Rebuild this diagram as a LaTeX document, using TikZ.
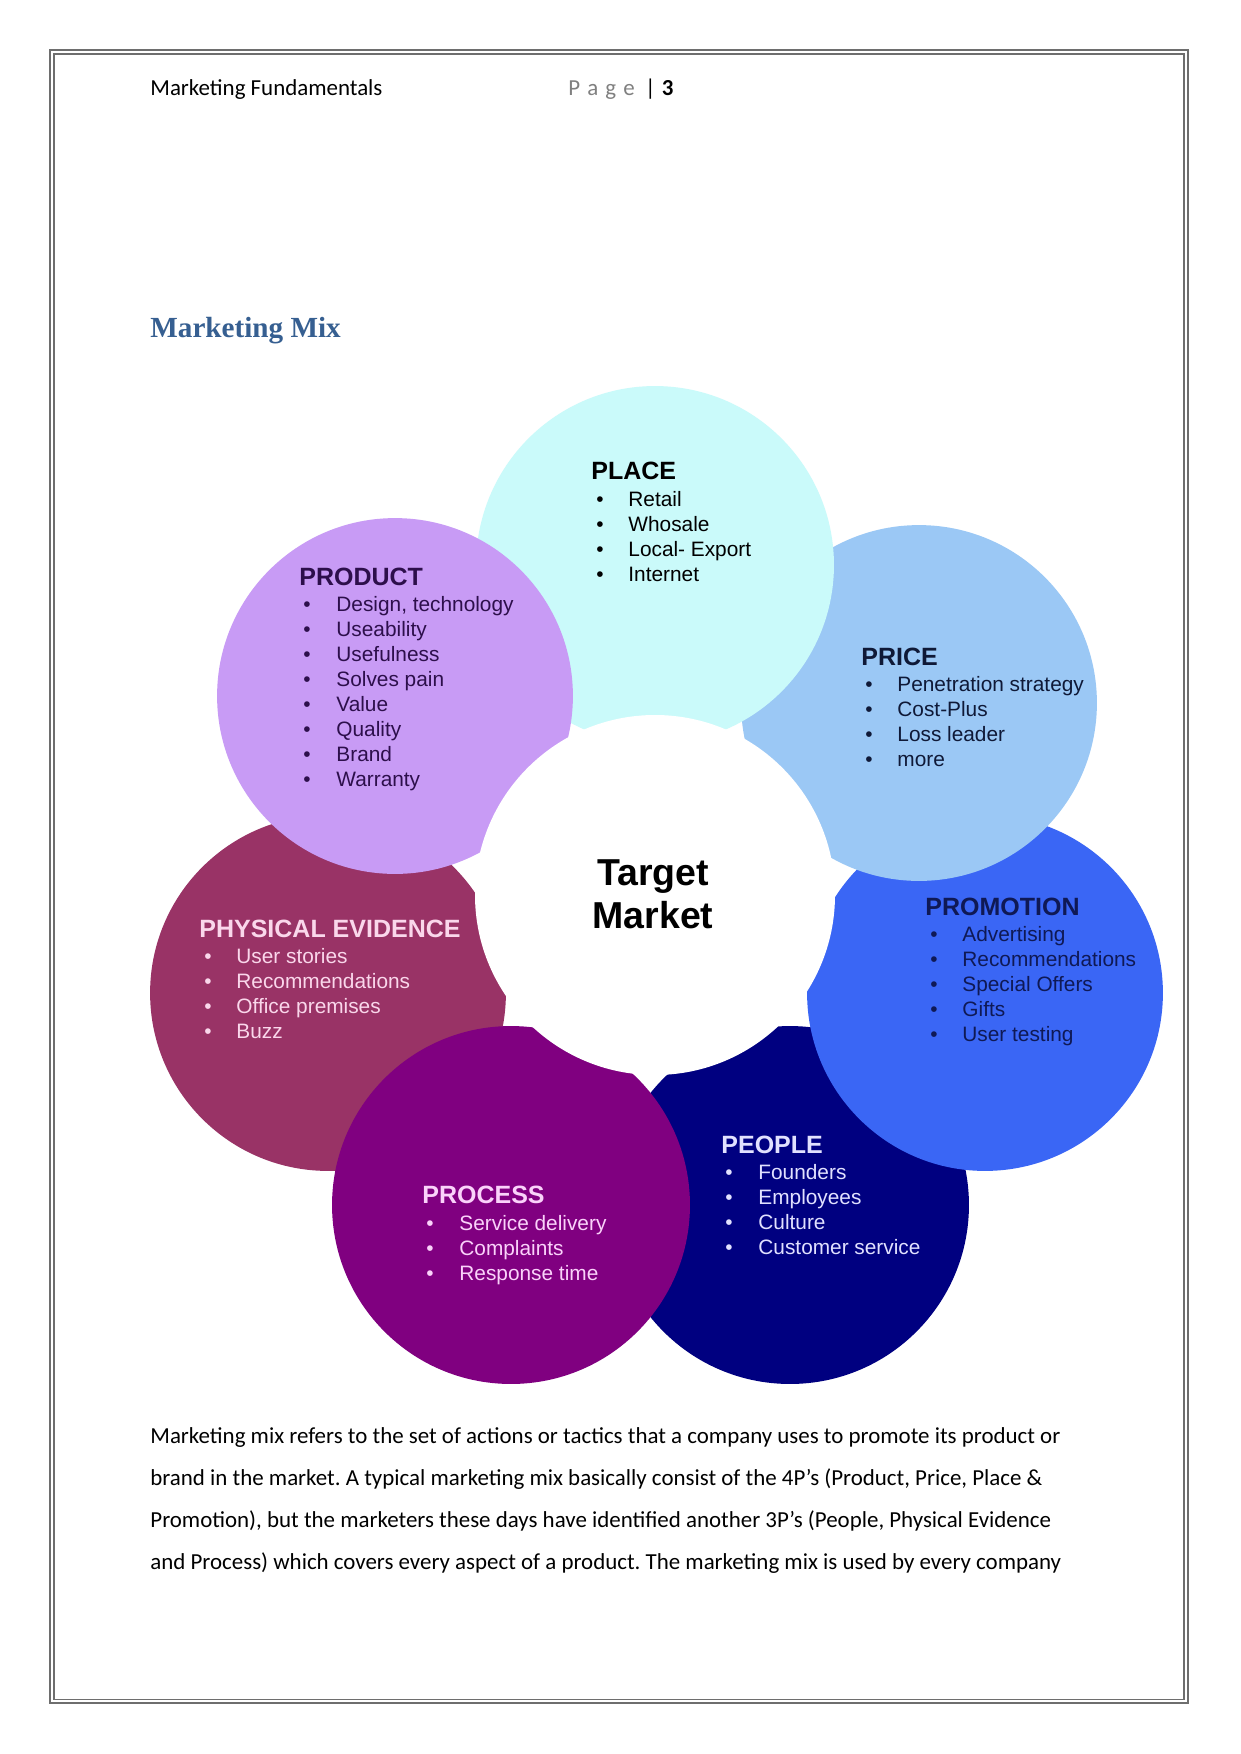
\documentclass[tikz,border=0pt]{standalone}
\usepackage{fontspec}
\setmainfont{Carlito}
\newfontfamily\arialf{Liberation Sans}
\newfontfamily\serifb{Liberation Serif}
\frenchspacing
\definecolor{cPlace}{RGB}{202,250,250}
\definecolor{cProduct}{RGB}{200,155,245}
\definecolor{cPrice}{RGB}{155,200,245}
\definecolor{cPromo}{RGB}{58,102,245}
\definecolor{cPeople}{RGB}{0,0,128}
\definecolor{cProcess}{RGB}{128,0,128}
\definecolor{cPE}{RGB}{153,51,102}
\definecolor{tProduct}{RGB}{45,15,75}
\definecolor{tPrice}{RGB}{15,25,55}
\definecolor{tPromo}{RGB}{15,25,85}
\definecolor{tPE}{RGB}{250,215,235}
\definecolor{tProcess}{RGB}{250,210,250}
\definecolor{tPeople}{RGB}{225,225,255}
\definecolor{cTitle}{RGB}{54,95,145}
\definecolor{cBorder}{RGB}{110,110,110}
\tikzset{
  hd/.style={anchor=base west, inner sep=0pt, font=\arialf\bfseries\fontsize{12}{14}\selectfont},
  itm/.style={anchor=base west, inner sep=0pt, font=\arialf\fontsize{10}{12}\selectfont},
  bodytxt/.style={anchor=base west, inner sep=0pt, font=\fontsize{11}{13}\selectfont},
}
\begin{document}
\begin{tikzpicture}[x=0.48pt,y=-0.48pt]
\useasboundingbox (0,0) rectangle (1241,1754);
\fill[white] (0,0) rectangle (1241,1754);
% page border (double line)
\draw[line width=1.1pt, cBorder] (50,50) rectangle (1188,1703);
\draw[line width=0.5pt, cBorder] (54,54) rectangle (1184,1699);

% header
\node[bodytxt] (hdrL) at (150,95) {Marketing Fundamentals};
\node[bodytxt] (hdrR) at (568,95) {{\color{black!50}P\kern3.4pt a\kern3.4pt g\kern3.4pt e}\kern5pt|\kern3pt\textbf{3}};

% title
\node[anchor=base west, inner sep=0pt, font=\serifb\bfseries\fontsize{14}{16}\selectfont, text=cTitle] (title) at (150,337) {Marketing Mix};

% circles (drawing order gives the overlaps)
\fill[cPeople]  (790,1205) circle[radius=85.9pt];
\fill[cPromo]   (985,993)  circle[radius=85.4pt];
\fill[cPrice]   (919,703)  circle[radius=85.4pt];
\fill[cPlace]   (655,565)  circle[radius=85.9pt];
\fill[cPE]      (328,993)  circle[radius=85.4pt];
\fill[cProduct] (395,696)  circle[radius=85.4pt];
\fill[cProcess] (511,1205) circle[radius=85.9pt];
\fill[white]    (655,895)  circle[radius=86.4pt];

% PLACE
\node[hd] (placeH) at (591,479) {PLACE};
\foreach \t [count=\i] in {Retail,Whosale,Local- Export,Internet}{
  \node[itm, name=placeB\i] at (596,{506+(\i-1)*25}) {•};
  \node[itm, name=placeI\i] at (628,{506+(\i-1)*25}) {\t};
}
% PRODUCT
\node[hd, text=tProduct] (prodH) at (299,585) {PRODUCT};
\foreach \t [count=\i] in {{Design, technology},Useability,Usefulness,Solves pain,Value,Quality,Brand,Warranty}{
  \node[itm, text=tProduct, name=prodB\i] at (303,{611+(\i-1)*25.1}) {•};
  \node[itm, text=tProduct, name=prodI\i] at (336,{611+(\i-1)*25.1}) {\t};
}
% PRICE
\node[hd, text=tPrice] (priceH) at (861,665) {PRICE};
\foreach \t [count=\i] in {Penetration strategy,Cost-Plus,Loss leader,more}{
  \node[itm, text=tPrice, name=priceB\i] at (865,{691+(\i-1)*25}) {•};
  \node[itm, text=tPrice, name=priceI\i] at (897,{691+(\i-1)*25}) {\t};
}
% PROMOTION
\node[hd, text=tPromo] (promoH) at (925,915) {PROMOTION};
\foreach \t [count=\i] in {Advertising,Recommendations,Special Offers,Gifts,User testing}{
  \node[itm, text=tPromo, name=promoB\i] at (930,{941+(\i-1)*25.2}) {•};
  \node[itm, text=tPromo, name=promoI\i] at (962,{941+(\i-1)*25.2}) {\t};
}
% PHYSICAL EVIDENCE
\node[hd, text=tPE] (peH) at (199,937) {PHYSICAL EVIDENCE};
\foreach \t [count=\i] in {User stories,Recommendations,Office premises,Buzz}{
  \node[itm, text=tPE, name=peB\i] at (204,{963+(\i-1)*25}) {•};
  \node[itm, text=tPE, name=peI\i] at (236,{963+(\i-1)*25}) {\t};
}
% PEOPLE
\node[hd, text=tPeople] (peopleH) at (721,1153) {PEOPLE};
\foreach \t [count=\i] in {Founders,Employees,Culture,Customer service}{
  \node[itm, text=tPeople, name=peopleB\i] at (725,{1179+(\i-1)*25.3}) {•};
  \node[itm, text=tPeople, name=peopleI\i] at (758,{1179+(\i-1)*25.3}) {\t};
}
% PROCESS
\node[hd, text=tProcess] (procH) at (422,1203) {PROCESS};
\foreach \t [count=\i] in {Service delivery,Complaints,Response time}{
  \node[itm, text=tProcess, name=procB\i] at (426,{1230+(\i-1)*25}) {•};
  \node[itm, text=tProcess, name=procI\i] at (459,{1230+(\i-1)*25}) {\t};
}
% centre
\node[anchor=base, inner sep=0pt, font=\arialf\bfseries\fontsize{18}{21}\selectfont] (tm1) at (653,885) {Target};
\node[anchor=base, inner sep=0pt, font=\arialf\bfseries\fontsize{18}{21}\selectfont] (tm2) at (653,928) {Market};

% body text
\node[bodytxt] (b1) at (150,1443) {Marketing mix refers to the set of actions or tactics that a company uses to promote its product or};
\node[bodytxt] (b2) at (150,1485) {brand in the market. A typical marketing mix basically consist of the 4P’s (Product, Price, Place \&};
\node[bodytxt] (b3) at (150,1527) {Promotion), but the marketers these days have identified another 3P’s (People, Physical Evidence};
\node[bodytxt] (b4) at (150,1569) {and Process) which covers every aspect of a product. The marketing mix is used by every company};
\end{tikzpicture}
\end{document}
